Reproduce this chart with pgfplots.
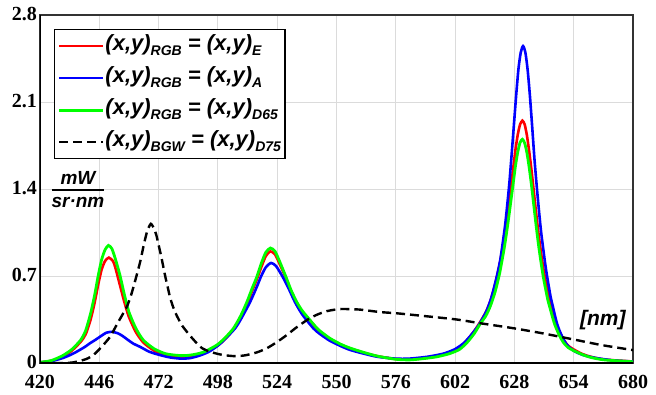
\documentclass[border=0pt]{standalone}
\usepackage{fontspec}
\setmainfont{Liberation Serif}
\newfontfamily\lsans{Liberation Sans}
\usepackage{pgfplots}
\pgfplotsset{compat=1.18}
\definecolor{cred}{RGB}{255,0,0}
\definecolor{cblue}{RGB}{0,0,255}
\definecolor{cgreen}{RGB}{0,255,0}
\newcommand{\sub}[1]{\raisebox{-0.45ex}{\fontsize{14}{14}\selectfont #1}}
\newcommand{\xy}{(x,y)}
\begin{document}
\begin{tikzpicture}
\path[use as bounding box] (-40pt,-31pt) rectangle (616pt,363pt);
\begin{axis}[
  at={(0,0)}, anchor=south west,
  scale only axis, width=593pt, height=348pt,
  xmin=420, xmax=680, ymin=0, ymax=2.8,
  xtick={420,446,472,498,524,550,576,602,628,654,680},
  ytick={0,0.7,1.4,2.1,2.8},
  xticklabels={420,446,472,498,524,550,576,602,628,654,680},
  yticklabels={0,0.7,1.4,2.1,2.8},
  /pgf/number format/assume math mode=true,
  grid=major, major grid style={black!14, line width=1pt},
  major tick length=0pt,
  tick label style={font=\bfseries\fontsize{20}{20}\selectfont, inner sep=1pt},
  xticklabel style={yshift=-11pt},
  yticklabel style={xshift=-2pt, yshift=1pt},
  axis line style={line width=1.4pt, black!80},
  legend style={at={(rel axis cs:0.0236,0.96)}, anchor=north west, draw=black, line width=1.4pt, fill=white,
    font=\lsans\bfseries\itshape\fontsize{22}{22}\selectfont, inner xsep=3pt, inner ysep=3pt, row sep=5pt,
    nodes={inner sep=1pt, text height=17pt, text depth=8pt}},
  legend cell align=left,
  legend image code/.code={\draw[#1] (0pt,0pt) -- (44pt,0pt);},
]
\addplot[cred, line width=2.6pt, smooth, tension=0.4] coordinates {
(420,0.005) (425,0.018) (430,0.05) (434,0.1) (437.8,0.17) (440,0.23) (442.2,0.35) (444,0.49) (445.5,0.63) (447,0.75) (448.5,0.82) (450.2,0.848) (452,0.82) (453,0.77) (455,0.63) (457,0.49) (459,0.37) (462,0.25) (465.3,0.165) (470,0.1) (475,0.065) (480,0.052) (484,0.05) (488,0.06) (492,0.082) (497.5,0.135) (501,0.19) (504.8,0.27) (508,0.37) (510.7,0.47) (513,0.58) (515,0.67) (517,0.77) (519,0.86) (521,0.898) (523,0.875) (525,0.80) (527.9,0.68) (530,0.58) (532.6,0.48) (535,0.41) (538.4,0.34) (542,0.265) (547,0.195) (552,0.145) (556,0.115) (562,0.082) (568,0.055) (576,0.032) (582,0.028) (588,0.038) (594,0.055) (599.5,0.085) (604,0.125) (607.5,0.19) (610.5,0.26) (613,0.33) (615.5,0.41) (617.5,0.5) (619.5,0.63) (621.5,0.79) (623.5,1.0) (624.5,1.13) (625.5,1.27) (626.5,1.42) (627.5,1.57) (628.5,1.72) (629.5,1.84) (630.5,1.92) (631.5,1.95) (632.5,1.92) (633.5,1.83) (634.5,1.70) (635.5,1.55) (636.5,1.38) (637.5,1.21) (638.5,1.05) (639.5,0.91) (640.7,0.76) (642.5,0.58) (643.5,0.5) (645.5,0.36) (647.5,0.26) (649.5,0.19) (651.5,0.14) (653.9,0.11) (657.5,0.075) (661.5,0.05) (667.5,0.028) (680,0.012)
};
\addlegendentry{\xy\sub{RGB} = \xy\sub{E}}
\addplot[cblue, line width=2.6pt, smooth, tension=0.4] coordinates {
(420,0.005) (425,0.015) (430,0.04) (433.2,0.064) (436,0.09) (439.7,0.13) (442,0.16) (444.1,0.184) (447,0.22) (449,0.243) (451.4,0.251) (454,0.24) (456,0.22) (458.7,0.184) (461,0.155) (463.9,0.13) (468,0.09) (472.6,0.064) (477,0.045) (482,0.035) (486,0.04) (490,0.06) (494,0.09) (498,0.14) (501,0.19) (505.5,0.278) (508,0.35) (512.1,0.49) (515,0.61) (517,0.70) (519,0.77) (521.3,0.805) (523.5,0.78) (526.5,0.69) (529,0.6) (531.8,0.49) (535,0.39) (539.9,0.278) (543,0.23) (547,0.18) (552,0.135) (556,0.105) (562,0.075) (568,0.05) (576,0.035) (581.8,0.035) (589.8,0.05) (596.8,0.075) (601.8,0.11) (605.8,0.16) (608.8,0.22) (611.8,0.29) (613.8,0.35) (615.8,0.42) (617.8,0.52) (619.8,0.66) (621.8,0.83) (623.8,1.09) (624.8,1.26) (625.8,1.45) (626.8,1.68) (627.8,1.92) (628.8,2.16) (629.8,2.37) (630.8,2.50) (631.8,2.55) (632.8,2.50) (633.8,2.36) (634.8,2.15) (635.8,1.9) (636.8,1.64) (637.8,1.42) (638.8,1.22) (639.8,1.04) (641.8,0.76) (643.8,0.54) (644.8,0.46) (645.8,0.38) (646.8,0.31) (647.8,0.26) (649.8,0.18) (651.8,0.13) (654.8,0.09) (658.8,0.06) (663.8,0.04) (671.8,0.02) (680,0.012)
};
\addlegendentry{\xy\sub{RGB} = \xy\sub{A}}
\addplot[cgreen, line width=2.8pt, smooth, tension=0.4] coordinates {
(420,0.005) (425,0.02) (430,0.06) (434,0.11) (437.8,0.184) (440,0.26) (442.2,0.40) (444,0.55) (445.5,0.70) (447,0.83) (448.5,0.91) (450,0.946) (451.5,0.92) (453,0.84) (455,0.71) (457,0.55) (459,0.41) (462,0.28) (465.3,0.184) (470,0.115) (475,0.075) (480,0.062) (484,0.06) (488,0.07) (492,0.09) (497.5,0.144) (501,0.2) (504.8,0.278) (508,0.38) (510.7,0.49) (513,0.6) (515,0.69) (517,0.8) (519,0.89) (521,0.925) (523,0.9) (525,0.82) (527.9,0.69) (530,0.59) (532.6,0.49) (535,0.42) (538.4,0.345) (542,0.27) (547,0.2) (552,0.15) (556,0.12) (562,0.085) (568,0.055) (576,0.03) (582,0.025) (588,0.035) (594,0.05) (599.5,0.075) (604,0.11) (607.5,0.17) (610.5,0.24) (613,0.315) (615.5,0.38) (617.5,0.46) (619.5,0.57) (621.5,0.72) (623.5,0.92) (624.5,1.04) (625.5,1.17) (626.5,1.31) (627.5,1.45) (628.5,1.59) (629.5,1.70) (630.5,1.775) (631.5,1.80) (632.5,1.77) (633.5,1.69) (634.5,1.57) (635.5,1.43) (636.5,1.27) (637.5,1.11) (638.5,0.96) (639.5,0.83) (640.7,0.69) (642.5,0.52) (643.5,0.45) (645.5,0.32) (647.5,0.23) (649.5,0.165) (651.5,0.125) (653.9,0.10) (657.5,0.07) (661.5,0.045) (667.5,0.025) (680,0.01)
};
\addlegendentry{\xy\sub{RGB} = \xy\sub{D65}}
\addplot[black, line width=2.4pt, dash pattern=on 9pt off 5pt, smooth, tension=0.4] coordinates {
(420,0.0) (430,0.0) (434.6,0.005) (440,0.03) (443.4,0.064) (447,0.13) (450.7,0.21) (454,0.32) (458,0.45) (460,0.55) (462,0.68) (464,0.82) (465.5,0.95) (467,1.06) (468.6,1.12) (470,1.08) (471,1.03) (472,0.95) (473,0.87) (474,0.78) (475,0.69) (476,0.61) (477,0.53) (478,0.47) (479,0.42) (480,0.38) (482,0.31) (484,0.26) (486,0.215) (488.7,0.16) (491,0.12) (494.6,0.09) (500,0.065) (505.5,0.055) (510,0.062) (515,0.085) (519.4,0.118) (524,0.17) (528.2,0.225) (532,0.28) (537,0.345) (541,0.385) (545.7,0.417) (551.6,0.434) (560,0.43) (569,0.41) (576.4,0.40) (590,0.375) (602.7,0.35) (613,0.32) (627.5,0.28) (640,0.24) (653.8,0.19) (666,0.145) (680,0.104)
};
\addlegendentry{\xy\sub{BGW} = \xy\sub{D75}}
\draw[line width=2.6pt, black] (rel axis cs:0,1) -- (rel axis cs:0,0) -- (rel axis cs:1,0);
\setlength{\arrayrulewidth}{1.6pt}
\node[font=\lsans\bfseries\itshape\fontsize{19}{19}\selectfont, inner sep=0pt] at (rel axis cs:0.064,0.49)
  {\begin{tabular}{@{}c@{}}mW\\[-1pt]\hline\rule{0pt}{17pt}sr·nm\end{tabular}};
\node[font=\lsans\bfseries\itshape\fontsize{21}{21}\selectfont] at (rel axis cs:0.949,0.1236) {[nm]};
\end{axis}
\end{tikzpicture}
\end{document}
